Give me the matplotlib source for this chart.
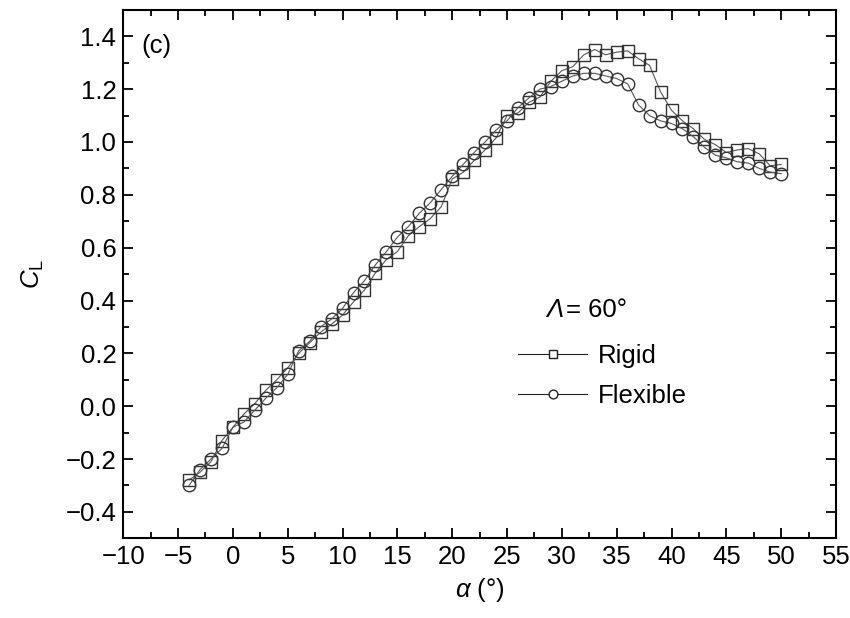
import matplotlib
matplotlib.use('Agg')
import matplotlib.pyplot as plt
import numpy as np
from matplotlib.ticker import MultipleLocator

plt.rcParams['font.family'] = ['Liberation Sans', 'DejaVu Sans']
plt.rcParams['mathtext.fontset'] = 'custom'
plt.rcParams['mathtext.rm'] = 'Liberation Sans'
plt.rcParams['mathtext.it'] = 'Liberation Sans:italic'

# angle of attack (deg)
alpha = list(range(-4, 51))

cl_rigid = [-0.28, -0.25, -0.21, -0.13, -0.08, -0.03, 0.01, 0.06, 0.10, 0.145,
            0.20, 0.24, 0.28, 0.31, 0.345, 0.395, 0.44, 0.505, 0.555, 0.585,
            0.645, 0.68, 0.71, 0.755, 0.86, 0.885, 0.93, 0.97, 1.015, 1.10,
            1.11, 1.15, 1.17, 1.23, 1.27, 1.285, 1.33, 1.35, 1.33, 1.34,
            1.345, 1.315, 1.29, 1.19, 1.12, 1.08, 1.05, 1.01, 0.99, 0.96,
            0.97, 0.975, 0.955, 0.91, 0.915]

cl_flex = [-0.30, -0.24, -0.20, -0.16, -0.08, -0.06, -0.015, 0.03, 0.07, 0.12,
           0.21, 0.245, 0.30, 0.33, 0.37, 0.43, 0.475, 0.535, 0.585, 0.64,
           0.68, 0.73, 0.77, 0.82, 0.87, 0.915, 0.96, 1.00, 1.045, 1.08,
           1.13, 1.167, 1.20, 1.21, 1.23, 1.25, 1.26, 1.26, 1.25, 1.24,
           1.22, 1.14, 1.10, 1.08, 1.07, 1.05, 1.02, 0.98, 0.95, 0.94,
           0.925, 0.92, 0.90, 0.886, 0.88]

fs = 18.5

fig = plt.figure(figsize=(8.5, 6.18), dpi=100)
ax = fig.add_axes([0.145, 0.129, 0.8385, 0.855])

ec = '#333333'
ax.plot(alpha, cl_rigid, color='#555555', lw=0.8, marker='s', ms=8.5,
        mfc='none', mec=ec, mew=1.0, label='Rigid')
ax.plot(alpha, cl_flex, color='#555555', lw=0.8, marker='o', ms=9,
        mfc='none', mec=ec, mew=1.0, label='Flexible')

ax.set_xlim(-10, 55)
ax.set_ylim(-0.5, 1.5)
ax.xaxis.set_major_locator(MultipleLocator(5))
ax.xaxis.set_minor_locator(MultipleLocator(2.5))
ax.yaxis.set_minor_locator(MultipleLocator(0.1))
ax.set_yticks(np.arange(-0.4, 1.41, 0.2))
ax.yaxis.set_major_formatter(plt.FuncFormatter(lambda v, p: ('%.1f' % v).replace('-', '\u2212')))

ax.tick_params(which='both', direction='in', top=True, right=True, labelsize=fs, width=1.3)
ax.tick_params(which='major', length=7, pad=5)
ax.tick_params(which='minor', length=4)
for s in ax.spines.values():
    s.set_linewidth(1.5)

ax.set_xlabel(r'$\alpha$ (°)', fontsize=fs, labelpad=5)
ax.set_ylabel(r'$C_\mathrm{L}$', fontsize=fs, labelpad=14)
ax.text(0.025, 0.955, '(c)', transform=ax.transAxes, fontsize=fs, va='top')

# legend title: italic Lambda followed by upright text
ax.text(0.618, 0.432, '\u039b', transform=ax.transAxes, fontsize=fs,
        style='italic', ha='right', va='center')
ax.text(0.621, 0.432, '= 60°', transform=ax.transAxes, fontsize=fs,
        ha='left', va='center')

leg = ax.legend(loc='center', bbox_to_anchor=(0.672, 0.307), frameon=False,
                fontsize=fs, handlelength=2.7, handletextpad=0.4,
                labelspacing=0.6, markerscale=0.7)
for h in leg.legend_handles:
    h.set_markerfacecolor('white')
    h.set_color('#222222')
    h.set_markeredgecolor('#222222')

fig.savefig('out.png', dpi=100)
